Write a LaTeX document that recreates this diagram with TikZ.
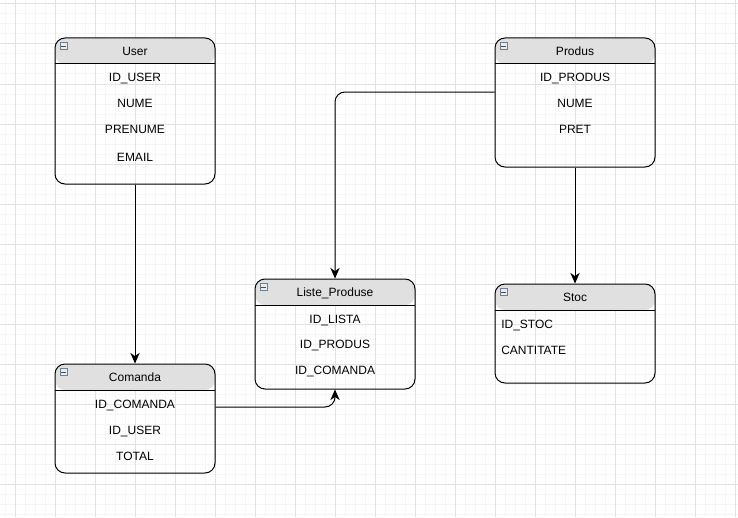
\documentclass[tikz,border=0pt]{standalone}
\usepackage{fontspec}
\setmainfont{Liberation Sans}
\usepackage{xcolor}
\usetikzlibrary{arrows.meta}

\definecolor{headfill}{HTML}{E0E0E0}
\definecolor{gridminor}{HTML}{F5F5F5}
\definecolor{gridmajor}{HTML}{E2E2E2}
\definecolor{iconline}{HTML}{6F7F96}

\tikzset{
  entity/.style={draw, line width=0.75pt, rounded corners=7.5pt, minimum width=120pt, inner sep=0pt,
    path picture={
      \fill[headfill] (path picture bounding box.north west) rectangle ([yshift=-19.5pt]path picture bounding box.north east);
      \draw[line width=0.75pt] ([yshift=-19.5pt]path picture bounding box.north west) -- ([yshift=-19.5pt]path picture bounding box.north east);
    }},
  title/.style={inner sep=0.75pt, text height=6.5pt, text depth=0pt, font=\fontsize{9}{11}\selectfont},
  field/.style={inner sep=0.75pt, text height=6.5pt, text depth=0pt, font=\fontsize{9}{11}\selectfont},
  foldicon/.style={draw=iconline, fill=white!85!iconline, line width=0.5pt, minimum size=5.5pt, inner sep=0pt,
    path picture={
      \draw[line width=0.6pt, black!70] ([xshift=1.2pt]path picture bounding box.west) -- ([xshift=-1.2pt]path picture bounding box.east);
    }},
  link/.style={draw, line width=0.75pt, rounded corners=7.5pt, -{Stealth[length=8pt,width=7pt,inset=2.5pt]}}
}

\begin{document}
\begin{tikzpicture}[x=0.75pt,y=0.75pt,yscale=-1,xscale=1]
\useasboundingbox (0,0) rectangle (738,517);

%Grid
\foreach \x in {5,15,...,735} \draw[gridminor, line width=0.75pt] (\x,0) -- (\x,517);
\foreach \y in {4,14,...,514} \draw[gridminor, line width=0.75pt] (0,\y) -- (738,\y);
\foreach \x in {15,55,...,735} \draw[gridmajor, line width=0.75pt] (\x,0) -- (\x,517);
\foreach \y in {4,44,...,484} \draw[gridmajor, line width=0.75pt] (0,\y) -- (738,\y);

%Shape: User
\node[entity, minimum height=109.5pt] (user) at (135,111) {};
\node[foldicon] (user-i) at (63.5,46) {};
% Text Node
\node[title] (user-t) at (135,51) {User};
\node[field] (user-1) at (135,77) {ID\_USER};
\node[field] (user-2) at (135,103) {NUME};
\node[field] (user-3) at (135,129) {PRENUME};
\node[field] (user-4) at (135,157) {EMAIL};

%Shape: Produs
\node[entity, minimum height=96.75pt] (produs) at (575,102.5) {};
\node[foldicon] (produs-i) at (503.5,46) {};
% Text Node
\node[title] (produs-t) at (575,51) {Produs};
\node[field] (produs-1) at (575,77) {ID\_PRODUS};
\node[field] (produs-2) at (575,103) {NUME};
\node[field] (produs-3) at (575,129) {PRET};

%Shape: Liste_Produse
\node[entity, minimum height=82.5pt] (liste) at (335,334) {};
\node[foldicon] (liste-i) at (263.5,287) {};
% Text Node
\node[title] (liste-t) at (335,292) {Liste\_Produse};
\node[field] (liste-1) at (335,319) {ID\_LISTA};
\node[field] (liste-2) at (335,344) {ID\_PRODUS};
\node[field] (liste-3) at (335,370) {ID\_COMANDA};

%Shape: Comanda
\node[entity, minimum height=81.75pt] (comanda) at (135,418.5) {};
\node[foldicon] (comanda-i) at (63.5,372) {};
% Text Node
\node[title] (comanda-t) at (135,377) {Comanda};
\node[field] (comanda-1) at (135,404) {ID\_COMANDA};
\node[field] (comanda-2) at (135,430) {ID\_USER};
\node[field] (comanda-3) at (135,456) {TOTAL};

%Shape: Stoc
\node[entity, minimum height=74.25pt] (stoc) at (575,333.5) {};
\node[foldicon] (stoc-i) at (503.5,292) {};
% Text Node
\node[title] (stoc-t) at (575,297) {Stoc};
\node[field, anchor=west] (stoc-1) at (500,324) {ID\_STOC};
\node[field, anchor=west] (stoc-2) at (500,350) {CANTITATE};

%Connectors
\draw[link] (user) -- (comanda);
\draw[link] (produs) -- (stoc);
\draw[link] ([yshift=-7.875pt]produs.west) -| (liste.north);
\draw[link] ([yshift=-8.625pt]comanda.east) -| (liste.south);

\end{tikzpicture}
\end{document}
